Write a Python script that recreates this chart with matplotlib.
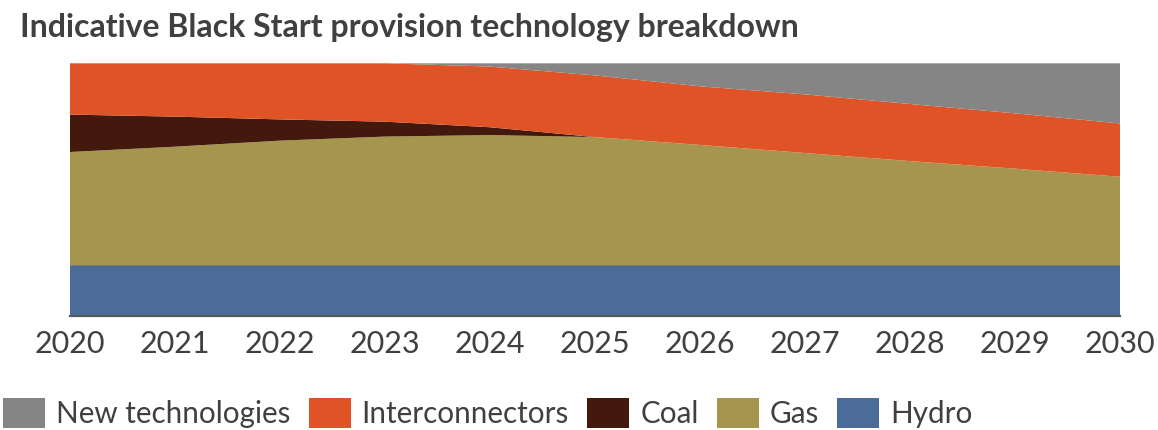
import numpy as np
import matplotlib.pyplot as plt

# Part de chaque technologie (%), par année
years = [2020, 2021, 2022, 2023, 2024, 2025, 2026, 2027, 2028, 2029, 2030]
hydro = [20, 20, 20, 20, 20, 20, 20, 20, 20, 20, 20]
gas = [44.9, 47.0, 49.4, 51.0, 51.6, 50.8, 47.7, 44.5, 41.3, 38.3, 35.1]
coal = [14.8, 11.9, 8.4, 5.9, 3.1, 0, 0, 0, 0, 0, 0]
interconnectors = [20.3, 21.1, 22.2, 23.1, 24.0, 24.4, 23.2, 23.2, 22.6, 21.9, 21.1]
new_tech = [0, 0, 0, 0, 1.3, 4.8, 9.1, 12.3, 16.1, 19.8, 23.8]

labels = ["Hydro", "Gas", "Coal", "Interconnectors", "New technologies"]
colors = ["#4B6B99", "#A6964D", "#43190E", "#E05326", "#858585"]

plt.rcParams['font.family'] = ['Lato', 'DejaVu Sans']
text_col = "#404040"

fig = plt.figure(figsize=(11.58, 4.30), dpi=100)
ax = fig.add_axes([70/1158, 1 - 316/430, (1120 - 70)/1158, (316 - 63.3)/430])

polys = ax.stackplot(years, hydro, gas, coal, interconnectors, new_tech,
                     labels=labels, colors=colors, lw=0)

ax.set_xlim(2020, 2030)
ax.set_ylim(0, 100)
ax.set_xticks(years)
ax.set_xticklabels([str(y) for y in years])
ax.set_yticks([])
for s in ["top", "left", "right"]:
    ax.spines[s].set_visible(False)
ax.spines["bottom"].set_color("#595959")
ax.spines["bottom"].set_linewidth(1.6)
ax.tick_params(axis="x", length=0, pad=10, labelsize=22, labelcolor=text_col)

fig.text(20/1158, 1 - 27/430, "Indicative Black Start provision technology breakdown",
         fontsize=23, fontweight="bold", color=text_col, va="center", ha="left")

# Légende en bas, ordre inverse de l'empilement
handles = polys[::-1]
leg = fig.legend(handles, labels[::-1], loc="center left",
                 bbox_to_anchor=(3/1158, 1 - 413/430), ncol=5, frameon=False,
                 fontsize=21.3, handlelength=1.42, handleheight=1.2,
                 handletextpad=0.37, columnspacing=0.62, borderpad=0,
                 borderaxespad=0)
for t in leg.get_texts():
    t.set_color(text_col)

fig.savefig("out.png", dpi=100)
